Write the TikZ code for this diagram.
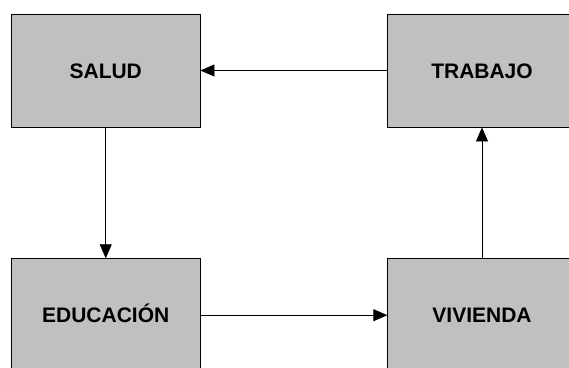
\documentclass[tikz,border=0pt]{standalone}
\usepackage{fontspec}
\setmainfont{Liberation Sans}
\usepackage{xcolor}
\usetikzlibrary{arrows.meta}
\definecolor{boxgray}{HTML}{C0C0C0}

\begin{document}
\begin{tikzpicture}[x=1pt,y=-1pt,
		caja/.style={draw,fill=boxgray,line width=0.8pt,minimum width=188.5pt,minimum height=113pt,text height=15pt,text depth=0pt,font=\fontsize{21}{25}\selectfont\bfseries},
		flecha/.style={-{Triangle[length=14pt,width=12pt]},line width=0.8pt}]
			\useasboundingbox (0,0) rectangle (569,367);
			\clip (0,0) rectangle (569,367);
			\foreach \n/\x/\y/\t in {S/105.75/70.5/SALUD,T/482/70.5/TRABAJO,E/105.75/315.2/EDUCACIÓN,V/482/315.2/VIVIENDA}{
				\node[caja] (\n) at (\x,\y) {\t};
			}
			
			\foreach \a/\b in {T/S,S/E,E/V,V/T}{
				\draw[flecha] (\a)--(\b);
			}
		\end{tikzpicture}
\end{document}
